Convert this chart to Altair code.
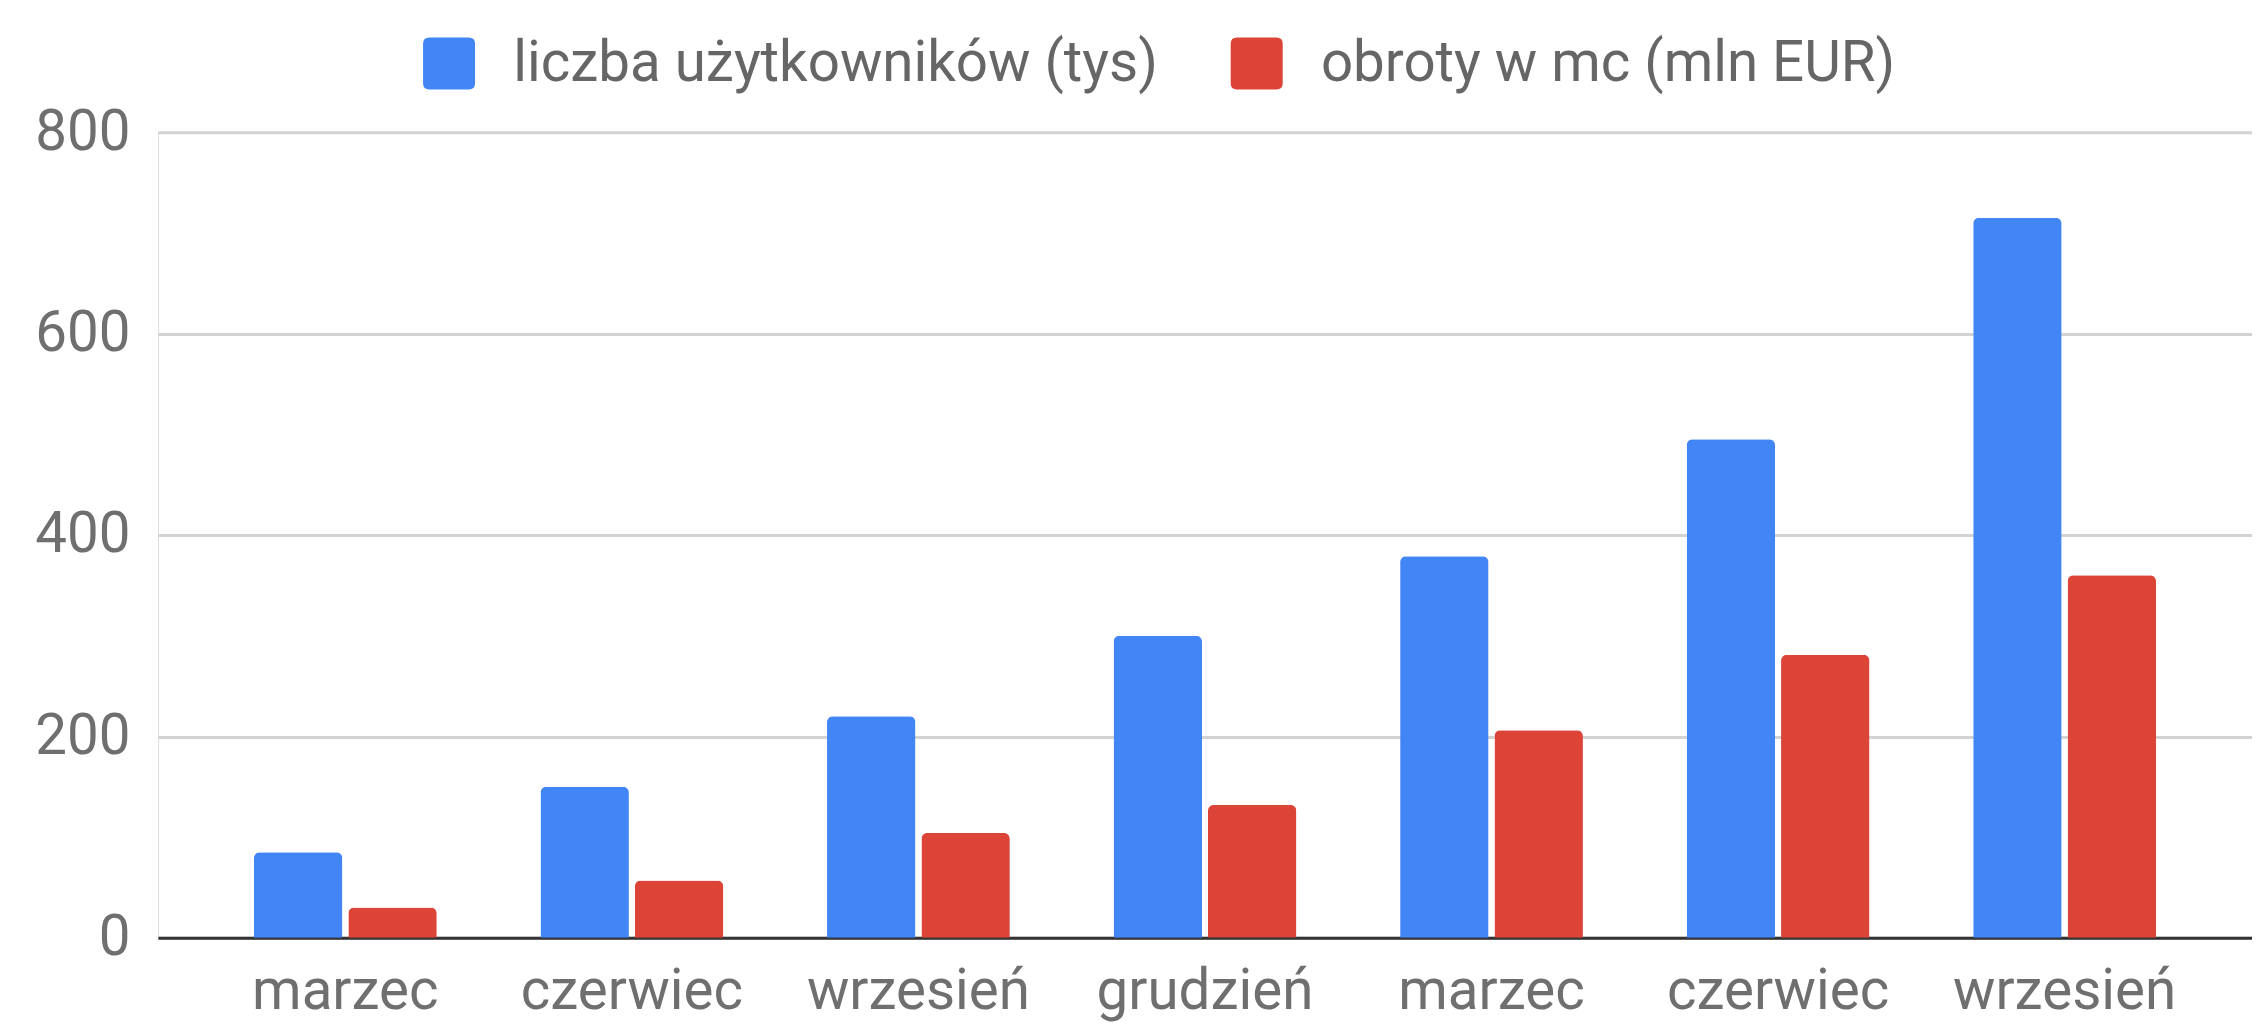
import json
import altair as alt
import pandas as pd

months = ["marzec", "czerwiec", "wrzesień", "grudzień", "marzec", "czerwiec", "wrzesień"]
series_names = ["liczba użytkowników (tys)", "obroty w mc (mln EUR)"]
users = [85, 150, 220, 300, 379, 495, 715]
turnover = [30, 57, 104, 132, 206, 281, 360]
colors = ["#4285F4", "#DB4437"]

rows = []
for i, m in enumerate(months):
    rows.append({"idx": i, "series": series_names[0], "value": users[i]})
    rows.append({"idx": i, "series": series_names[1], "value": turnover[i]})
df = pd.DataFrame(rows)

label_expr = json.dumps(months, ensure_ascii=False) + "[datum.value]"
FONT = "Roboto"
FS = 56.5
rounded = ("M -0.76,-1 L 0.76,-1 Q 1,-1 1,-0.76 L 1,0.76 Q 1,1 0.76,1 "
           "L -0.76,1 Q -1,1 -1,0.76 L -1,-0.76 Q -1,-1 -0.76,-1 Z")

chart = alt.Chart(df).mark_bar(
    cornerRadiusTopLeft=6, cornerRadiusTopRight=6
).encode(
    x=alt.X("idx:O", sort=list(range(len(months))),
            scale=alt.Scale(paddingInner=0.362, paddingOuter=0.335),
            axis=alt.Axis(title=None, labelExpr=label_expr, labelAngle=0,
                          labelFont=FONT, labelFontSize=FS, labelColor="#6f6f6f",
                          labelPadding=26, labelLimit=0, ticks=False,
                          domainColor="#333333", domainWidth=3, grid=False)),
    xOffset=alt.XOffset("series:N", sort=series_names,
                        scale=alt.Scale(paddingInner=0.063, paddingOuter=0)),
    y=alt.Y("value:Q", scale=alt.Scale(domain=[0, 800], nice=False),
            axis=alt.Axis(title=None, values=[0, 200, 400, 600, 800],
                          labelFont=FONT, labelFontSize=FS, labelColor="#6f6f6f",
                          labelPadding=28, ticks=False, domain=False,
                          gridColor="#d3d3d3", gridWidth=3)),
    color=alt.Color("series:N", sort=series_names,
                    scale=alt.Scale(domain=series_names, range=colors),
                    legend=alt.Legend(title=None, orient="none", direction="horizontal",
                                      legendX=263, legendY=-97,
                                      symbolType=rounded, symbolSize=2704,
                                      symbolStrokeWidth=0, symbolOpacity=1,
                                      labelFont=FONT, labelFontSize=FS,
                                      labelColor="#666666", labelOffset=36,
                                      labelLimit=0, columnPadding=70)),
).properties(
    width=2095, height=806,
    padding={"left": 150, "top": 124, "right": 0, "bottom": 84},
    autosize=alt.AutoSizeParams(type="none"),
).configure_view(stroke=None).configure(background="#ffffff")

chart.save("out.html", embed_options={"renderer": "svg", "actions": False})
